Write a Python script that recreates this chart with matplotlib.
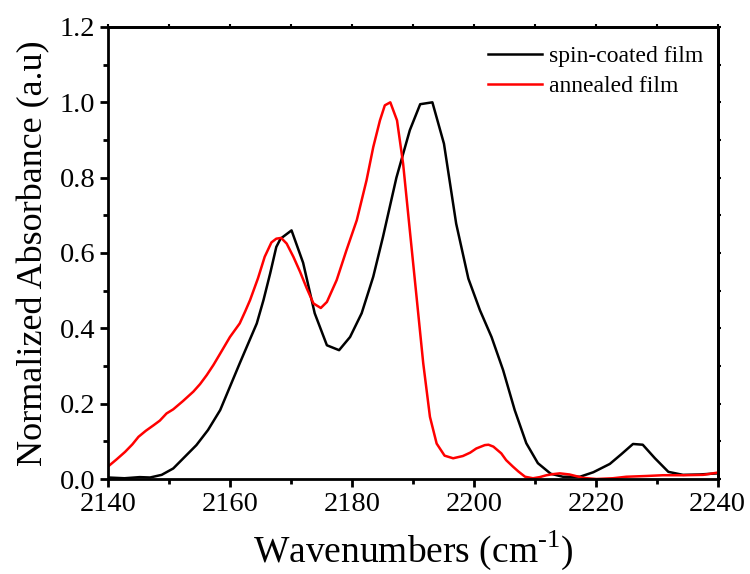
import matplotlib
matplotlib.use("Agg")
import matplotlib.pyplot as plt
from matplotlib.ticker import MultipleLocator, FormatStrFormatter

params = {'font.family': ['Liberation Serif', 'DejaVu Serif'],
          'mathtext.fontset': 'custom',
          'mathtext.rm': 'Liberation Serif',
          'axes.linewidth': 2.0,
          'xtick.labelsize': 20.5,
          'ytick.labelsize': 20.5,
          'legend.fontsize': 17}
plt.rcParams.update(params)

# spin-coated film (black)
spin_x = [2140.0, 2142.7, 2145.2, 2146.9, 2148.8, 2150.7, 2152.6, 2154.5, 2156.4, 2158.4,
          2160.0, 2161.6, 2163.0, 2164.4, 2165.5, 2166.6, 2167.6, 2168.3, 2170.1, 2172.0,
          2173.9, 2175.9, 2177.9, 2179.7, 2181.6, 2183.5, 2185.1, 2187.3, 2189.5, 2191.2,
          2193.2, 2195.1, 2197.1, 2199.1, 2201.0, 2202.9, 2204.8, 2206.7, 2208.6, 2210.5,
          2212.6, 2214.6, 2217.4, 2219.6, 2222.3, 2224.2, 2226.1, 2227.7, 2229.7, 2231.9,
          2234.3, 2237.0, 2240.0]
spin_y = [0.004, 0.002, 0.005, 0.004, 0.011, 0.028, 0.059, 0.090, 0.130, 0.183,
          0.245, 0.307, 0.360, 0.413, 0.475, 0.546, 0.616, 0.638, 0.660, 0.574,
          0.440, 0.355, 0.342, 0.377, 0.440, 0.537, 0.643, 0.800, 0.926, 0.995,
          1.000, 0.890, 0.678, 0.532, 0.448, 0.377, 0.289, 0.183, 0.095, 0.042,
          0.014, 0.006, 0.006, 0.018, 0.040, 0.066, 0.093, 0.091, 0.055, 0.019,
          0.011, 0.012, 0.015]

# annealed film (red)
ann_x = [2140.0, 2141.4, 2142.8, 2144.0, 2145.0, 2146.2, 2147.5, 2148.5, 2149.6, 2150.7,
         2152.3, 2154.0, 2155.1, 2156.2, 2157.3, 2158.4, 2160.0, 2161.6, 2162.5, 2163.3,
         2164.6, 2165.7, 2166.8, 2167.6, 2168.4, 2169.3, 2170.4, 2171.5, 2172.6, 2173.7,
         2174.9, 2175.9, 2177.5, 2179.1, 2180.8, 2182.4, 2183.5, 2184.6, 2185.4, 2186.3,
         2187.4, 2188.4, 2189.5, 2190.6, 2191.7, 2192.8, 2193.9, 2195.2, 2196.6, 2198.2,
         2199.4, 2200.4, 2201.8, 2202.4, 2203.2, 2204.5, 2205.3, 2206.4, 2207.3, 2208.4,
         2209.7, 2210.8, 2211.9, 2213.0, 2214.1, 2215.7, 2217.9, 2220.1, 2222.8, 2225.0,
         2228.3, 2231.0, 2234.3, 2237.6, 2240.0]
ann_y = [0.033, 0.052, 0.072, 0.092, 0.112, 0.128, 0.143, 0.155, 0.174, 0.185,
         0.207, 0.232, 0.252, 0.276, 0.303, 0.333, 0.377, 0.413, 0.445, 0.475,
         0.533, 0.590, 0.628, 0.638, 0.640, 0.625, 0.590, 0.550, 0.506, 0.466,
         0.454, 0.470, 0.528, 0.607, 0.687, 0.793, 0.881, 0.952, 0.992, 1.000,
         0.952, 0.837, 0.660, 0.484, 0.307, 0.165, 0.094, 0.062, 0.055, 0.061,
         0.070, 0.081, 0.090, 0.091, 0.086, 0.068, 0.050, 0.033, 0.020, 0.006,
         0.002, 0.005, 0.010, 0.013, 0.015, 0.012, 0.003, 0.000, 0.002, 0.006,
         0.008, 0.010, 0.010, 0.011, 0.017]

fig, ax = plt.subplots(figsize=(7.5, 5.74), dpi=100)
plt.subplots_adjust(left=0.144, right=0.957, bottom=0.1655, top=0.953)

ax.plot(spin_x, spin_y, color='black', lw=1.8, label='spin-coated film')
ax.plot(ann_x, ann_y, color='red', lw=1.8, label='annealed film')

ax.set_xlim(2140, 2240)
ax.set_ylim(0, 1.2)
ax.xaxis.set_major_locator(MultipleLocator(20))
ax.xaxis.set_minor_locator(MultipleLocator(10))
ax.yaxis.set_major_locator(MultipleLocator(0.2))
ax.yaxis.set_minor_locator(MultipleLocator(0.1))
ax.yaxis.set_major_formatter(FormatStrFormatter('%.1f'))
ax.tick_params(which='major', direction='out', length=6, width=2, pad=3)
ax.tick_params(which='minor', direction='out', length=3.5, width=2)

# small ticks on top and right frame
top = ax.secondary_xaxis('top')
top.set_xticks(range(2140, 2241, 10))
top.tick_params(direction='out', length=2, width=1.5, labeltop=False)
right = ax.secondary_yaxis('right')
right.set_yticks([i / 10 for i in range(13)])
right.tick_params(direction='out', length=2, width=1.5, labelright=False)

ax.set_xlabel(r'Wavenumbers (cm$^{\text{-1}}$)', fontsize=27, labelpad=9)
ax.set_ylabel('Normalized Absorbance (a.u)', fontsize=26, labelpad=7)

ax.legend(loc='upper right', bbox_to_anchor=(1.0, 0.99), frameon=False,
          handlelength=2.3, handletextpad=0.3, labelspacing=0.35,
          borderaxespad=0.2)

plt.savefig('out.png', dpi=100)
